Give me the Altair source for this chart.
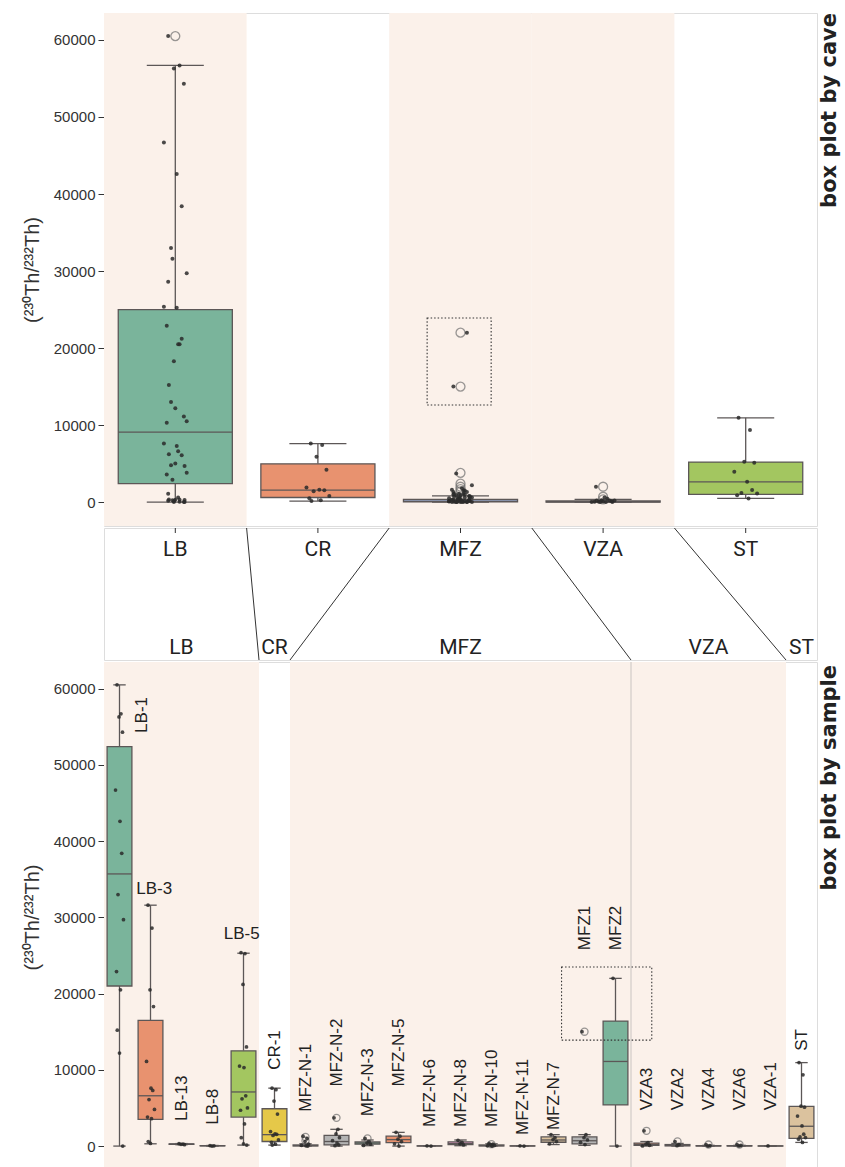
import altair as alt
import pandas as pd

# ---------------------------------------------------------------- data
CAVES = ["LB", "CR", "MFZ", "VZA", "ST"]
CAVE_SHADED = [True, False, True, True, False]
CAVE_LO = [0, 130, 0, 0, 480]
CAVE_Q1 = [2400, 600, 30, 10, 1000]
CAVE_MED = [9100, 1560, 100, 50, 2640]
CAVE_Q3 = [25000, 4970, 350, 150, 5200]
CAVE_HI = [56700, 7600, 800, 350, 10950]
CAVE_FLIERS = {
    "LB": [60500],
    "MFZ": [22000, 15000, 3800, 2400, 2000, 1700, 1400],
    "VZA": [2000, 700, 350],
}

SAMPLES = ["LB-1", "LB-3", "LB-13", "LB-8", "LB-5", "CR-1",
           "MFZ-N-1", "MFZ-N-2", "MFZ-N-3", "MFZ-N-5", "MFZ-N-6", "MFZ-N-8",
           "MFZ-N-10", "MFZ-N-11", "MFZ-N-7", "MFZ1", "MFZ2",
           "VZA3", "VZA2", "VZA4", "VZA6", "VZA-1", "ST"]
SAMPLE_CAVE = ["LB"] * 5 + ["CR"] + ["MFZ"] * 11 + ["VZA"] * 5 + ["ST"]
SAMPLE_LO = [0, 300, 180, 0, 130, 130, 0, 0, 50, 0, 0, 50, 0, 0, 200, 100, 0,
             0, 0, 0, 0, 0, 480]
SAMPLE_Q1 = [21000, 3500, 220, 20, 3800, 600, 20, 150, 250, 450, 10, 180, 20, 10,
             500, 300, 5400, 100, 30, 10, 10, 5, 1000]
SAMPLE_MED = [35700, 6600, 260, 40, 7100, 1500, 60, 600, 400, 850, 20, 320, 60, 20,
              800, 700, 11100, 200, 80, 30, 30, 15, 2600]
SAMPLE_Q3 = [52400, 16500, 300, 60, 12500, 4900, 150, 1400, 550, 1300, 30, 550, 150,
             30, 1200, 1200, 16400, 400, 200, 60, 60, 25, 5200]
SAMPLE_HI = [60500, 31600, 330, 80, 25300, 7600, 300, 2200, 800, 1800, 50, 800, 300,
             40, 1500, 1500, 22000, 600, 350, 100, 100, 40, 10950]

SAMPLE_POINTS = {
    "LB-1": [60500, 56700, 56300, 54300, 46700, 42600, 38400, 33000, 29700, 22900,
             20500, 15200, 12200, 0],
    "LB-3": [31600, 28600, 20500, 18300, 11100, 7600, 7300, 6100, 4800, 3800, 3600,
             600, 350],
    "LB-13": [320, 270, 230, 190],
    "LB-8": [60, 30, 10],
    "LB-5": [25370, 25250, 21200, 13000, 10500, 10300, 6600, 6200, 5000, 4700, 2900,
             1100, 300, 130],
    "CR-1": [7600, 7400, 5900, 4200, 1900, 1600, 1550, 1400, 800, 500, 250, 130],
    "MFZ-N-1": [1300, 1000, 600, 250, 100, 40, 10],
    "MFZ-N-2": [3700, 2200, 1600, 1100, 700, 400, 150, 50],
    "MFZ-N-3": [1000, 600, 400, 250, 80],
    "MFZ-N-5": [1800, 1300, 900, 600, 300, 0],
    "MFZ-N-6": [40, 10],
    "MFZ-N-8": [750, 500, 300, 150],
    "MFZ-N-10": [350, 250, 150, 80, 30, 10],
    "MFZ-N-11": [30, 10],
    "MFZ-N-7": [1500, 1100, 850, 600, 300],
    "MFZ1": [15000, 1500, 1100, 800, 500, 200],
    "MFZ2": [22000, 0],
    "VZA3": [2000, 450, 250, 100, 20],
    "VZA2": [600, 200, 50],
    "VZA4": [200, 60, 10],
    "VZA6": [200, 80, 20],
    "VZA-1": [20],
    "ST": [10950, 9350, 5240, 5110, 3940, 2640, 1560, 1200, 1120, 900, 480],
}
SAMPLE_FLIERS = {
    "MFZ-N-1": [1200, 700], "MFZ-N-2": [3700], "MFZ-N-3": [1000],
    "MFZ-N-10": [250], "MFZ1": [15000], "VZA3": [2000], "VZA2": [600],
    "VZA4": [200], "VZA6": [200],
}

# sample label: value where the text starts, horizontal shift (in boxes), angle
LABEL_AT = [54200, 33700, 3300, 2800, 27800, 10000, 4500, 7800, 3900, 7800, 2500,
            2500, 2500, 1450, 2100, 25700, 25700, 4700, 4700, 4700, 4700, 4700, 12500]
LABEL_DX = [0.72, 0.12, 0, 0, -0.06] + [0] * 18
LABEL_HORIZONTAL = ["LB-3", "LB-5"]

# highlighted pair of high values
HIGHLIGHT_TOP = {"x0": 1.766, "x1": 2.215, "y0": 12600, "y1": 23900}
HIGHLIGHT_BOTTOM = {"x0": 14.26, "x1": 17.17, "y0": 13900, "y1": 23500}

# ---------------------------------------------------------------- style
SET2 = ["#7AB49B", "#E8926F", "#95A3C3", "#DB96C1", "#A3C660", "#E5C849",
        "#DBC29E", "#B3B3B3"]
PEACH = "#FBF1EA"
LINE = "#5c5757"
INK = "#2a2a2a"
JITTER = [-0.5, 0.3, -0.1, 0.6, -0.8, 0.1, 0.45, -0.3, 0.8, -0.6, 0.2, -0.45,
          0.0, 0.65, -0.2]
YTITLE = "(²³⁰Th/²³²Th)"
GROUP_FONT = "Roboto"
W = 713
H_TOP, H_MID, H_BOT = 513, 132, 510
EXTENT = 58


def y_axis(font, size):
    return alt.Axis(values=list(range(0, 60001, 10000)), format="d", tickSize=6,
                    tickColor="#333", tickWidth=1, domain=False, grid=False,
                    labelFont=font, labelFontSize=size, labelColor="#333",
                    labelPadding=3, titleFont="Liberation Sans", titleFontSize=20,
                    titleFontWeight="normal", titleColor="#333", titlePadding=4,
                    minExtent=EXTENT, maxExtent=EXTENT)


def box_panel(box_df, pts_df, fl_df, bg_df, xdom, ydom, height, axis, pt_size,
              fl_size, extra):
    xs = alt.Scale(domain=xdom, nice=False, zero=False)
    ys = alt.Scale(domain=ydom, nice=False, zero=False)

    def X(f):
        return alt.X(f"{f}:Q", scale=xs, axis=None)

    def Y(f):
        return alt.Y(f"{f}:Q", scale=ys, axis=axis, title=YTITLE)

    bg = alt.Chart(bg_df).mark_rect(fill=PEACH).encode(
        x=X("x0"), x2=alt.X2("x1"), y=alt.value(0), y2=alt.value(height))
    w_lo = alt.Chart(box_df).mark_rule(color=LINE, strokeWidth=1.3).encode(
        x=X("x"), y=Y("lo"), y2=alt.Y2("q1"))
    w_hi = alt.Chart(box_df).mark_rule(color=LINE, strokeWidth=1.3).encode(
        x=X("x"), y=Y("q3"), y2=alt.Y2("hi"))
    c_lo = alt.Chart(box_df).mark_rule(color=LINE, strokeWidth=1.3).encode(
        x=X("cl"), x2=alt.X2("cr"), y=Y("lo"))
    c_hi = alt.Chart(box_df).mark_rule(color=LINE, strokeWidth=1.3).encode(
        x=X("cl"), x2=alt.X2("cr"), y=Y("hi"))
    box = alt.Chart(box_df).mark_rect(stroke=LINE, strokeWidth=1.3).encode(
        x=X("xl"), x2=alt.X2("xr"), y=Y("q1"), y2=alt.Y2("q3"),
        fill=alt.Fill("color:N", scale=None))
    med = alt.Chart(box_df).mark_rule(color=LINE, strokeWidth=1.3).encode(
        x=X("xl"), x2=alt.X2("xr"), y=Y("med"))
    fl = alt.Chart(fl_df).mark_point(shape="circle", filled=False, size=fl_size,
                                     color="#6e6e6e", strokeWidth=1.3).encode(
        x=X("x"), y=Y("v"))
    pts = alt.Chart(pts_df).mark_circle(size=pt_size, color=INK, opacity=0.85).encode(
        x=X("xj"), y=Y("v"))
    return [bg] + extra(X, Y) + [w_lo, w_hi, c_lo, c_hi, box, med, fl, pts]


def box_frame(xs, lo, q1, med, q3, hi, colors):
    df = pd.DataFrame({"x": xs, "lo": lo, "q1": q1, "med": med, "q3": q3,
                       "hi": hi, "color": colors})
    df["xl"] = df["x"] - 0.4
    df["xr"] = df["x"] + 0.4
    df["cl"] = df["x"] - 0.2
    df["cr"] = df["x"] + 0.2
    return df


def side_text(text, y):
    return alt.Chart(pd.DataFrame({"t": [text]})).mark_text(
        angle=270, align="right", baseline="middle", font="DejaVu Sans",
        fontWeight="bold", fontSize=21, color="#222").encode(
        x=alt.value(W + 13), y=alt.value(y), text="t:N")


# ---------------------------------------------------------------- top: by cave
cave_box = box_frame(list(range(5)), CAVE_LO, CAVE_Q1, CAVE_MED, CAVE_Q3, CAVE_HI,
                     SET2[:5])
rows = []
for ci, cave in enumerate(CAVES):
    vals = [v for s, c in zip(SAMPLES, SAMPLE_CAVE) if c == cave
            for v in SAMPLE_POINTS[s]]
    for k, v in enumerate(vals):
        rows.append({"xj": ci + 0.1 * JITTER[k % len(JITTER)], "v": v})
cave_pts = pd.DataFrame(rows)
cave_fl = pd.DataFrame([{"x": CAVES.index(c), "v": v}
                        for c, vs in CAVE_FLIERS.items() for v in vs])
cave_bg = pd.DataFrame([{"x0": i - 0.5, "x1": i + 0.5}
                        for i, s in enumerate(CAVE_SHADED) if s])


def top_extra(X, Y):
    return []


top_layers = box_panel(cave_box, cave_pts, cave_fl, cave_bg, [-0.5, 4.5],
                       [-3100, 63500], H_TOP, y_axis("Liberation Sans", 15),
                       16, 80, top_extra)
hl_top = alt.Chart(pd.DataFrame([HIGHLIGHT_TOP])).mark_rect(
    fillOpacity=0, stroke="#333", strokeWidth=1.1, strokeDash=[1.5, 2]).encode(
    x=alt.X("x0:Q", scale=alt.Scale(domain=[-0.5, 4.5], nice=False, zero=False),
            axis=None),
    x2=alt.X2("x1"),
    y=alt.Y("y0:Q", scale=alt.Scale(domain=[-3100, 63500], nice=False, zero=False),
            axis=y_axis("Liberation Sans", 15), title=YTITLE),
    y2=alt.Y2("y1"))
top = alt.layer(*top_layers, hl_top, side_text("box plot by cave", 0)).properties(
    width=W, height=H_TOP)

# ---------------------------------------------------------------- connector
n_per_cave = [SAMPLE_CAVE.count(c) for c in CAVES]
cum = [sum(n_per_cave[:k]) for k in range(6)]
n_s = len(SAMPLES)
conn_lines = pd.DataFrame({"xt": [k / 5 for k in range(1, 5)],
                           "xb": [cum[k] / n_s for k in range(1, 5)],
                           "yt": [1.0] * 4, "yb": [0.0] * 4})
top_names = pd.DataFrame({"x": [(k + 0.5) / 5 for k in range(5)], "name": CAVES})
bot_names = pd.DataFrame({"x": [(cum[k] + cum[k + 1]) / 2 / n_s for k in range(5)],
                          "name": CAVES})
cx = alt.Scale(domain=[0, 1], nice=False, zero=False)
cy = alt.Scale(domain=[0, 1], nice=False, zero=False)
conn_axis = alt.Axis(labels=False, ticks=False, domain=False, grid=False,
                     titleFont="Liberation Sans", titleFontSize=20,
                     titleFontWeight="normal", titleColor="rgba(0,0,0,0)",
                     titlePadding=4, minExtent=EXTENT, maxExtent=EXTENT)
c_lines = alt.Chart(conn_lines).mark_rule(color="#333", strokeWidth=1).encode(
    x=alt.X("xt:Q", scale=cx, axis=None), x2=alt.X2("xb"),
    y=alt.Y("yt:Q", scale=cy, axis=conn_axis, title=YTITLE), y2=alt.Y2("yb"))
c_ticks = alt.Chart(top_names).mark_rule(color="#333").encode(
    x=alt.X("x:Q", scale=cx, axis=None), y=alt.value(0), y2=alt.value(5))
c_top = alt.Chart(top_names).mark_text(
    font=GROUP_FONT, fontSize=21, color="#222", baseline="middle").encode(
    x=alt.X("x:Q", scale=cx, axis=None), y=alt.value(22), text="name:N")
c_bot = alt.Chart(bot_names).mark_text(
    font=GROUP_FONT, fontSize=21, color="#222", baseline="middle").encode(
    x=alt.X("x:Q", scale=cx, axis=None), y=alt.value(120), text="name:N")
middle = alt.layer(c_lines, c_ticks, c_top, c_bot).properties(width=W, height=H_MID)

# ---------------------------------------------------------------- bottom: by sample
s_idx = list(range(n_s))
samp_box = box_frame(s_idx, SAMPLE_LO, SAMPLE_Q1, SAMPLE_MED, SAMPLE_Q3, SAMPLE_HI,
                     [SET2[i % 8] for i in s_idx])
rows = []
for i, s in enumerate(SAMPLES):
    for k, v in enumerate(SAMPLE_POINTS[s]):
        rows.append({"xj": i + 0.16 * JITTER[k % len(JITTER)], "v": v})
samp_pts = pd.DataFrame(rows)
samp_fl = pd.DataFrame([{"x": SAMPLES.index(s), "v": v}
                        for s, vs in SAMPLE_FLIERS.items() for v in vs])
samp_bg = pd.DataFrame([{"x0": cum[k] - 0.5, "x1": cum[k + 1] - 0.5}
                        for k in range(5) if CAVE_SHADED[k]])
sep = pd.DataFrame({"x": [cum[3] - 0.5]})
labels = pd.DataFrame({"x": [i + d for i, d in zip(s_idx, LABEL_DX)],
                       "v": LABEL_AT, "name": SAMPLES})
lab_v = labels[~labels["name"].isin(LABEL_HORIZONTAL)]
lab_h = labels[labels["name"].isin(LABEL_HORIZONTAL)]


def bottom_extra(X, Y):
    return [alt.Chart(sep).mark_rule(color="#c9c4c1", strokeWidth=1).encode(
        x=X("x"), y=alt.value(0), y2=alt.value(H_BOT))]


bot_layers = box_panel(samp_box, samp_pts, samp_fl, samp_bg, [-0.5, n_s - 0.5],
                       [-3400, 63500], H_BOT, y_axis("Liberation Sans", 15),
                       14, 50, bottom_extra)
bx = alt.Scale(domain=[-0.5, n_s - 0.5], nice=False, zero=False)
by = alt.Scale(domain=[-3400, 63500], nice=False, zero=False)
hl_bot = alt.Chart(pd.DataFrame([HIGHLIGHT_BOTTOM])).mark_rect(
    fillOpacity=0, stroke="#333", strokeWidth=1.1, strokeDash=[1.5, 2]).encode(
    x=alt.X("x0:Q", scale=bx, axis=None), x2=alt.X2("x1"),
    y=alt.Y("y0:Q", scale=by, axis=y_axis("Liberation Sans", 15), title=YTITLE),
    y2=alt.Y2("y1"))
t_v = alt.Chart(lab_v).mark_text(
    angle=270, align="left", baseline="middle", font="Liberation Sans",
    fontSize=17, color="#222").encode(
    x=alt.X("x:Q", scale=bx, axis=None),
    y=alt.Y("v:Q", scale=by, axis=y_axis("Liberation Sans", 15), title=YTITLE),
    text="name:N")
t_h = alt.Chart(lab_h).mark_text(
    align="center", baseline="middle", font="Liberation Sans",
    fontSize=17, color="#222").encode(
    x=alt.X("x:Q", scale=bx, axis=None),
    y=alt.Y("v:Q", scale=by, axis=y_axis("Liberation Sans", 15), title=YTITLE),
    text="name:N")
bottom = alt.layer(*bot_layers, hl_bot, t_v, t_h,
                   side_text("box plot by sample", 3)).properties(
    width=W, height=H_BOT)

chart = alt.vconcat(top, middle, bottom, spacing=0).properties(
    padding={"left": 21, "top": 12, "right": 0, "bottom": 0}
).configure_view(stroke="#3a3a3a", strokeWidth=1.2).configure(background="white")

chart.save("out.html", embed_options={"renderer": "svg", "actions": False})
